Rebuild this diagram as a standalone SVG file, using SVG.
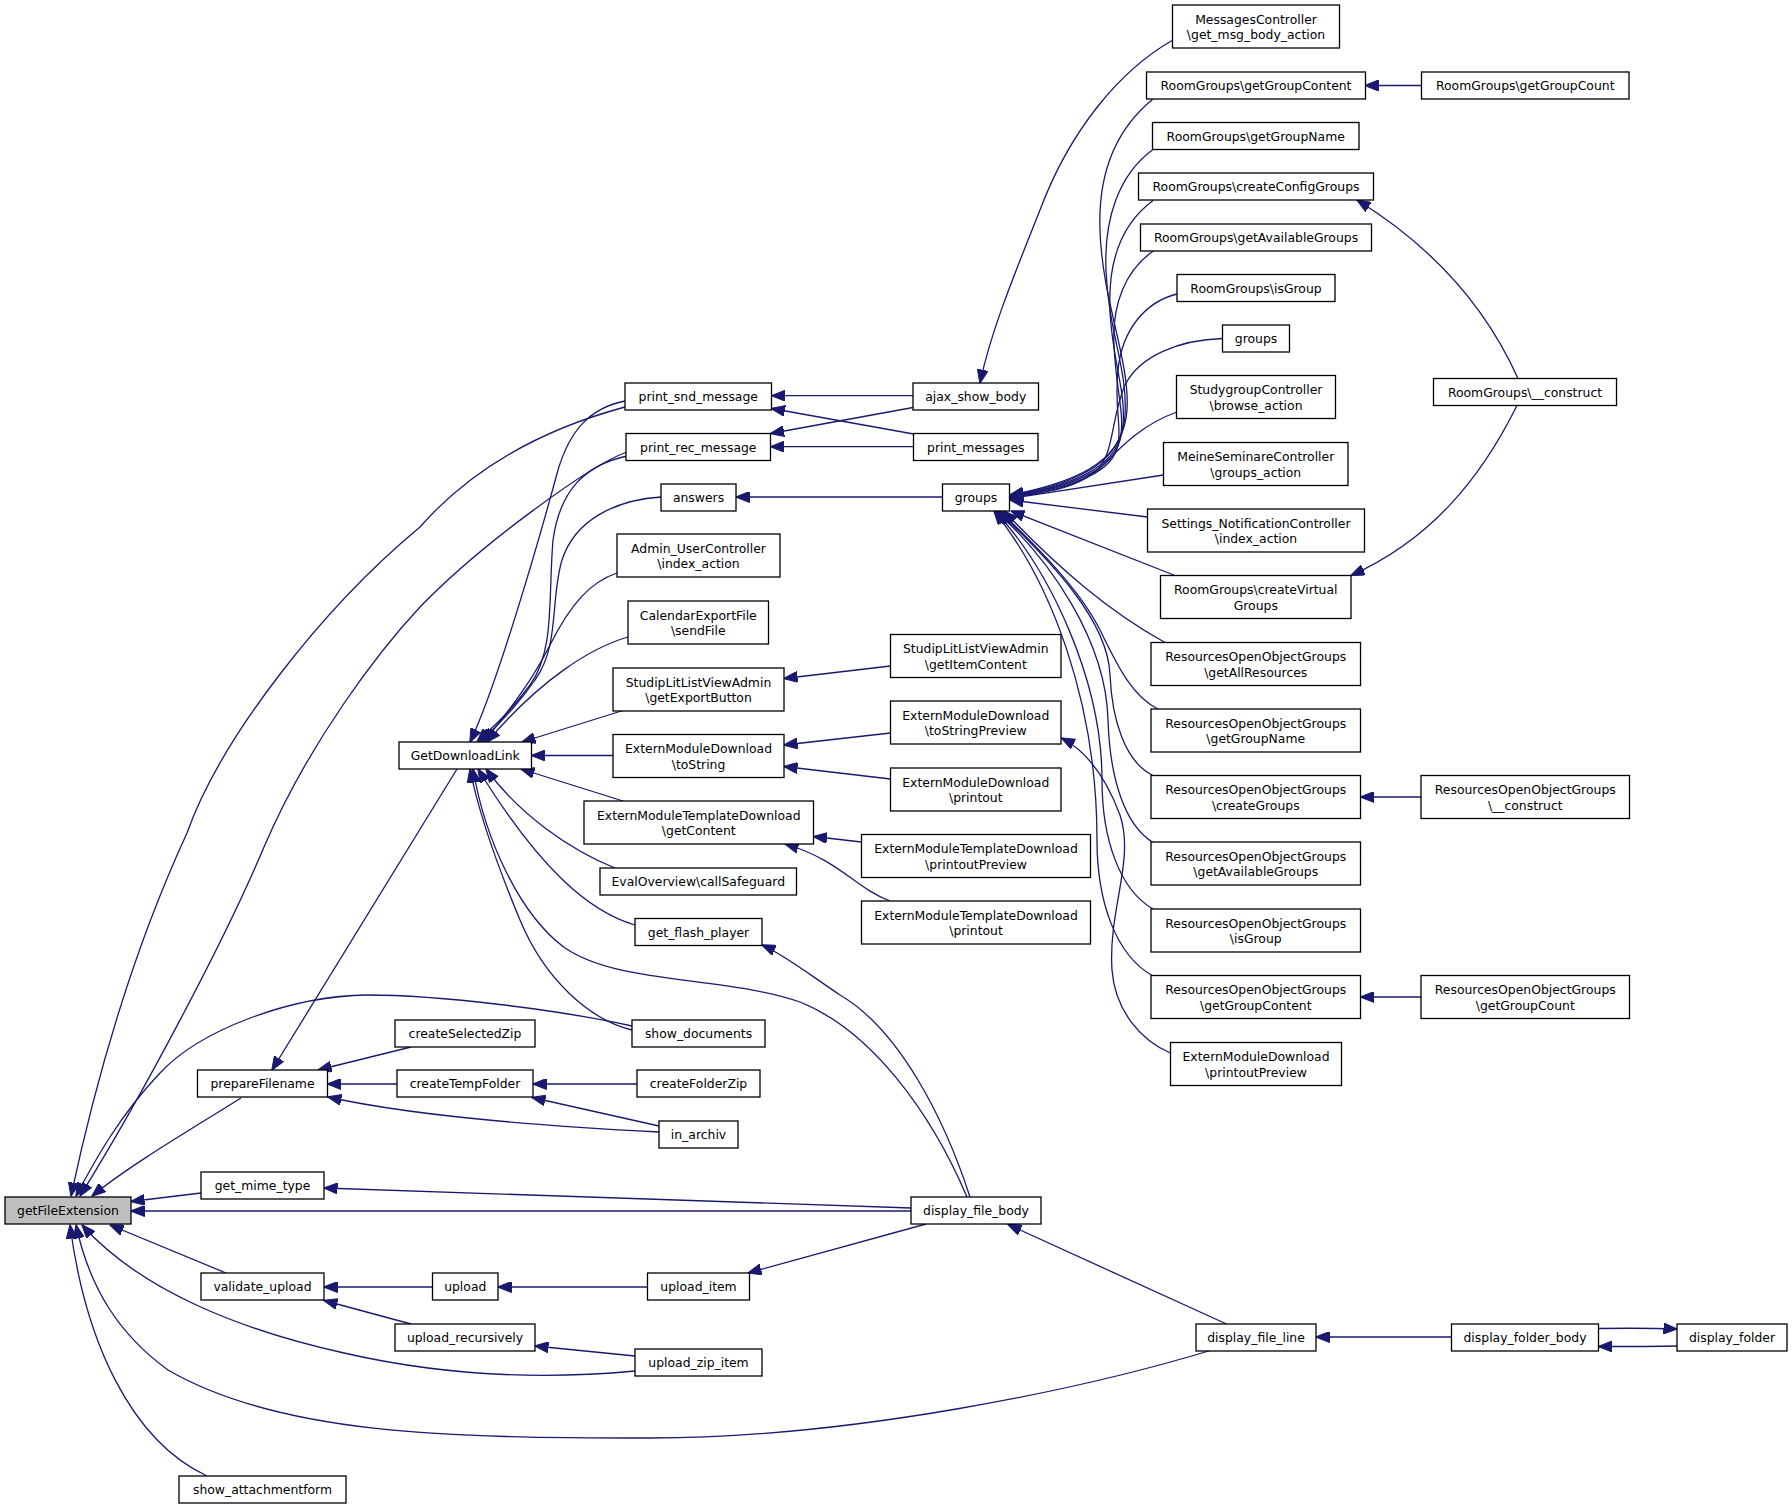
<svg xmlns="http://www.w3.org/2000/svg" width="1792" height="1508" viewBox="0 0 1792 1508">
<style>
.n rect{fill:#ffffff;stroke:#000000;stroke-width:1.3}
.n.hl rect{fill:#bfbfbf}
.n text{font-family:"DejaVu Sans","Liberation Sans",sans-serif;font-size:12.4px;fill:#000000;text-anchor:middle}
.e path{fill:none;stroke:#191970;stroke-width:1.3;marker-end:url(#a)}
</style>
<defs>
<marker id="a" markerUnits="userSpaceOnUse" markerWidth="14" markerHeight="11" viewBox="0 0 14 11" refX="13.5" refY="5.5" orient="auto"><path d="M0,0 L14,5.5 L0,11 z" fill="#191970" stroke="#191970" stroke-width="1"/></marker>
</defs>
<rect x="0" y="0" width="1792" height="1508" fill="#ffffff"/>
<g id="edges" class="e">
<path d="M625,407 C540,430 470,470 420,527 C320,610 220,740 187,833 C140,935 100,1060 71,1196"/>
<path d="M627,452 C590,465 480,545 420,607 C380,650 310,740 264,847 C225,940 140,1100 80,1196"/>
<path d="M632,1026 C560,1010 440,995 367,995 C290,996 200,1030 160,1073 C120,1115 95,1160 76,1196"/>
<path d="M241,1098 C190,1130 130,1165 92,1196"/>
<path d="M201,1193 L131,1201.5"/>
<path d="M911,1211 L131,1211"/>
<path d="M226,1273 L110,1225"/>
<path d="M635,1371 C540,1380 440,1375 344,1353 C240,1330 140,1290 82,1225"/>
<path d="M1212,1350 C1080,1390 850,1438 650,1438 C450,1438 280,1435 168,1370 C120,1335 90,1290 76,1225"/>
<path d="M207,1476 C130,1440 85,1340 70,1225"/>
<path d="M625,401 C590,408 570,430 558,470 C535,555 495,690 470,742"/>
<path d="M627,456 C585,465 560,490 553,540 C548,600 555,650 530,685 C510,712 495,725 477,742"/>
<path d="M661,497 C615,500 575,520 562,560 C550,600 560,645 535,680 C518,705 500,722 481,742"/>
<path d="M617,573 C590,582 570,605 550,645 C530,685 505,715 484,742"/>
<path d="M628,637 C590,648 540,680 487,742"/>
<path d="M623,710.5 L522,742"/>
<path d="M613,755.5 L531.5,755.5"/>
<path d="M623,801 L521,769"/>
<path d="M615,868 C570,850 520,815 486,769"/>
<path d="M635,925 C590,912 540,870 478,769"/>
<path d="M967,1197 C930,1110 870,1030 800,1002 C720,975 620,985 565,948 C520,915 485,840 473,769"/>
<path d="M632,1030 C590,1020 545,980 520,920 C495,860 478,810 470,769"/>
<path d="M457,769 L272,1070"/>
<path d="M411,1047 L318,1070"/>
<path d="M397,1084 L327.5,1084"/>
<path d="M659,1132 C520,1125 400,1113 328,1097"/>
<path d="M659,1126 L532,1097.5"/>
<path d="M637,1084 L533,1084"/>
<path d="M911,1208 L324,1188"/>
<path d="M432.5,1287 L324,1287"/>
<path d="M411,1324 L324,1300.5"/>
<path d="M647.5,1287 L498,1287"/>
<path d="M635,1356 L535,1346"/>
<path d="M926,1224 L748,1273"/>
<path d="M1226.5,1324 L1008,1224.5"/>
<path d="M970,1197 C945,1120 900,1030 840,995 C810,975 785,955 762,945"/>
<path d="M1451.5,1337 L1316,1337"/>
<path d="M1677,1346 C1650,1346.5 1620,1346.5 1598.5,1346.5"/>
<path d="M1598.5,1328.5 C1630,1328 1650,1328 1677,1329"/>
<path d="M913,395.7 L771.7,395.7"/>
<path d="M913.7,434 L771.5,408.5"/>
<path d="M913,407.5 L770.6,433.5"/>
<path d="M913.5,446.7 L770.6,446.7"/>
<path d="M1173,40 C1120,70 1070,130 1040,210 C1010,285 990,335 980,383"/>
<path d="M942.5,497 L736,497"/>
<path d="M890.5,666 L784,678.5"/>
<path d="M890.5,733 L784,745"/>
<path d="M890.5,779 L784,766.5"/>
<path d="M861.5,842 L813.5,836.5"/>
<path d="M890,901 C855,888 840,860 785,844"/>
<path d="M1170.5,1053 C1140,1040 1115,1010 1112,970 C1108,910 1135,860 1120,815 C1105,775 1085,750 1061.5,738"/>
<path d="M1421.5,85.5 L1365,85.5"/>
<path d="M1518,378.5 C1485,305 1430,245 1357,200"/>
<path d="M1517,405.5 C1480,480 1430,540 1351,575.5"/>
<path d="M1421,797 L1360.5,797"/>
<path d="M1421,997 L1360.5,997"/>
<path d="M1153,99 C1115,130 1098,175 1100,230 C1102,300 1130,360 1127,410 C1124,455 1090,480 1010,495"/>
<path d="M1153,149.5 C1118,175 1104,220 1106,270 C1108,330 1128,370 1125,415 C1122,458 1088,482 1010,495.5"/>
<path d="M1153,200.5 C1120,225 1108,265 1110,310 C1112,360 1126,390 1123,425 C1120,462 1085,484 1010,496"/>
<path d="M1154,250.5 C1125,270 1112,305 1114,345 C1116,390 1124,410 1121,435 C1117,465 1085,485 1010,496.5"/>
<path d="M1177,294 C1145,302 1122,330 1118,370 C1114,410 1122,425 1118,445 C1113,470 1082,486 1010,497"/>
<path d="M1222.5,338.5 C1180,340 1140,355 1125,385 C1110,420 1115,455 1095,472 C1075,488 1050,492 1010,497.5"/>
<path d="M1177,412 C1140,425 1118,450 1100,468 C1080,485 1050,492 1010,498"/>
<path d="M1163.5,475 L1010,498.5"/>
<path d="M1147.5,517 L1010,500"/>
<path d="M1175,575.5 L1011,511"/>
<path d="M1165,642.5 C1110,612 1060,570 1004,511"/>
<path d="M1158,709 C1130,695 1115,660 1100,630 C1080,590 1040,550 1000,511"/>
<path d="M1153,775.5 C1125,762 1112,720 1110,675 C1108,620 1050,560 998,511"/>
<path d="M1153,842.5 C1125,825 1110,780 1108,720 C1106,640 1050,560 996,511"/>
<path d="M1153,909 C1120,890 1102,840 1102,780 C1102,680 1050,570 995,511"/>
<path d="M1153,976 C1115,955 1097,900 1097,840 C1097,700 1050,580 994,511"/>
</g>
<g id="n-getFileExtension" class="n hl"><rect x="5" y="1197" width="126" height="27"/><text x="68" y="1215">getFileExtension</text></g>
<g id="n-prepareFilename" class="n"><rect x="197.5" y="1070" width="130" height="27"/><text x="262.5" y="1088">prepareFilename</text></g>
<g id="n-get_mime_type" class="n"><rect x="201" y="1172" width="123" height="27"/><text x="262.5" y="1190">get_mime_type</text></g>
<g id="n-validate_upload" class="n"><rect x="201" y="1273" width="123" height="27"/><text x="262.5" y="1291">validate_upload</text></g>
<g id="n-show_attachmentform" class="n"><rect x="179" y="1476" width="167" height="27"/><text x="262.5" y="1494">show_attachmentform</text></g>
<g id="n-createSelectedZip" class="n"><rect x="395" y="1020" width="140" height="27"/><text x="465" y="1038">createSelectedZip</text></g>
<g id="n-createTempFolder" class="n"><rect x="397" y="1070" width="136" height="27"/><text x="465" y="1088">createTempFolder</text></g>
<g id="n-upload" class="n"><rect x="432.5" y="1273" width="65.5" height="27"/><text x="465.25" y="1291">upload</text></g>
<g id="n-upload_recursively" class="n"><rect x="395" y="1324" width="140" height="27"/><text x="465" y="1342">upload_recursively</text></g>
<g id="n-GetDownloadLink" class="n"><rect x="399" y="742" width="132.5" height="27"/><text x="465.25" y="760">GetDownloadLink</text></g>
<g id="n-print_snd_message" class="n"><rect x="625" y="383" width="146.5" height="27"/><text x="698.25" y="401">print_snd_message</text></g>
<g id="n-print_rec_message" class="n"><rect x="626" y="433.5" width="144.5" height="27"/><text x="698.25" y="451.5">print_rec_message</text></g>
<g id="n-answers" class="n"><rect x="661" y="484" width="75" height="27"/><text x="698.5" y="502">answers</text></g>
<g id="n-Admin_UserController" class="n"><rect x="617" y="534" width="163" height="43"/><text x="698.5" y="552.5">Admin_UserController</text><text x="698.5" y="568">\index_action</text></g>
<g id="n-CalendarExportFile" class="n"><rect x="628" y="601" width="140.5" height="43"/><text x="698.25" y="619.5">CalendarExportFile</text><text x="698.25" y="635">\sendFile</text></g>
<g id="n-getExportButton" class="n"><rect x="613" y="668" width="171" height="43"/><text x="698.5" y="686.5">StudipLitListViewAdmin</text><text x="698.5" y="702">\getExportButton</text></g>
<g id="n-EMD_toString" class="n"><rect x="613" y="734.5" width="171" height="43"/><text x="698.5" y="753">ExternModuleDownload</text><text x="698.5" y="768.5">\toString</text></g>
<g id="n-EMTD_getContent" class="n"><rect x="584" y="801" width="229.5" height="43"/><text x="698.75" y="819.5">ExternModuleTemplateDownload</text><text x="698.75" y="835">\getContent</text></g>
<g id="n-callSafeguard" class="n"><rect x="600" y="868" width="196.5" height="27"/><text x="698.25" y="886">EvalOverview\callSafeguard</text></g>
<g id="n-get_flash_player" class="n"><rect x="635" y="918.5" width="127" height="27"/><text x="698.5" y="936.5">get_flash_player</text></g>
<g id="n-show_documents" class="n"><rect x="632" y="1020" width="133" height="27"/><text x="698.5" y="1038">show_documents</text></g>
<g id="n-createFolderZip" class="n"><rect x="637" y="1070" width="123" height="27"/><text x="698.5" y="1088">createFolderZip</text></g>
<g id="n-in_archiv" class="n"><rect x="659" y="1121" width="79" height="27"/><text x="698.5" y="1139">in_archiv</text></g>
<g id="n-upload_item" class="n"><rect x="647.5" y="1273" width="102" height="27"/><text x="698.5" y="1291">upload_item</text></g>
<g id="n-upload_zip_item" class="n"><rect x="635" y="1349" width="127" height="27"/><text x="698.5" y="1367">upload_zip_item</text></g>
<g id="n-ajax_show_body" class="n"><rect x="913" y="383" width="125.5" height="27"/><text x="975.75" y="401">ajax_show_body</text></g>
<g id="n-print_messages" class="n"><rect x="913.5" y="433.5" width="124.5" height="27"/><text x="975.75" y="451.5">print_messages</text></g>
<g id="n-groups" class="n"><rect x="942.5" y="484" width="67" height="27"/><text x="976" y="502">groups</text></g>
<g id="n-getItemContent" class="n"><rect x="890.5" y="634.5" width="170.5" height="43"/><text x="975.75" y="653">StudipLitListViewAdmin</text><text x="975.75" y="668.5">\getItemContent</text></g>
<g id="n-EMD_toStringPreview" class="n"><rect x="890.5" y="701" width="170.5" height="43"/><text x="975.75" y="719.5">ExternModuleDownload</text><text x="975.75" y="735">\toStringPreview</text></g>
<g id="n-EMD_printout" class="n"><rect x="890.5" y="768" width="170.5" height="43"/><text x="975.75" y="786.5">ExternModuleDownload</text><text x="975.75" y="802">\printout</text></g>
<g id="n-EMTD_printoutPreview" class="n"><rect x="861.5" y="834.5" width="229" height="43"/><text x="976" y="853">ExternModuleTemplateDownload</text><text x="976" y="868.5">\printoutPreview</text></g>
<g id="n-EMTD_printout" class="n"><rect x="861.5" y="901" width="229" height="43"/><text x="976" y="919.5">ExternModuleTemplateDownload</text><text x="976" y="935">\printout</text></g>
<g id="n-display_file_body" class="n"><rect x="911" y="1197" width="130" height="27"/><text x="976" y="1215">display_file_body</text></g>
<g id="n-MessagesController" class="n"><rect x="1172.5" y="5" width="167" height="43"/><text x="1256" y="23.5">MessagesController</text><text x="1256" y="39">\get_msg_body_action</text></g>
<g id="n-RG_getGroupContent" class="n"><rect x="1146.5" y="72" width="219" height="27"/><text x="1256" y="90">RoomGroups\getGroupContent</text></g>
<g id="n-RG_getGroupName" class="n"><rect x="1152.5" y="122.5" width="206.5" height="27"/><text x="1255.75" y="140.5">RoomGroups\getGroupName</text></g>
<g id="n-RG_createConfigGroups" class="n"><rect x="1138.5" y="173" width="235" height="27"/><text x="1256" y="191">RoomGroups\createConfigGroups</text></g>
<g id="n-RG_getAvailableGroups" class="n"><rect x="1140.5" y="224" width="231" height="27"/><text x="1256" y="242">RoomGroups\getAvailableGroups</text></g>
<g id="n-RG_isGroup" class="n"><rect x="1177" y="274.5" width="158" height="27"/><text x="1256" y="292.5">RoomGroups\isGroup</text></g>
<g id="n-groups2" class="n"><rect x="1222.5" y="325" width="67" height="27"/><text x="1256" y="343">groups</text></g>
<g id="n-StudygroupController" class="n"><rect x="1176.5" y="375.5" width="159" height="43"/><text x="1256" y="394">StudygroupController</text><text x="1256" y="409.5">\browse_action</text></g>
<g id="n-MeineSeminareController" class="n"><rect x="1163.5" y="442.5" width="184.5" height="43"/><text x="1255.75" y="461">MeineSeminareController</text><text x="1255.75" y="476.5">\groups_action</text></g>
<g id="n-Settings_NotificationController" class="n"><rect x="1147.5" y="509" width="217" height="43"/><text x="1256" y="527.5">Settings_NotificationController</text><text x="1256" y="543">\index_action</text></g>
<g id="n-RG_createVirtualGroups" class="n"><rect x="1160.5" y="575.5" width="190.5" height="43"/><text x="1255.75" y="594">RoomGroups\createVirtual</text><text x="1255.75" y="609.5">Groups</text></g>
<g id="n-ROOG_getAllResources" class="n"><rect x="1151" y="642.5" width="209.5" height="43"/><text x="1255.75" y="661">ResourcesOpenObjectGroups</text><text x="1255.75" y="676.5">\getAllResources</text></g>
<g id="n-ROOG_getGroupName" class="n"><rect x="1151" y="709" width="209.5" height="43"/><text x="1255.75" y="727.5">ResourcesOpenObjectGroups</text><text x="1255.75" y="743">\getGroupName</text></g>
<g id="n-ROOG_createGroups" class="n"><rect x="1151" y="775.5" width="209.5" height="43"/><text x="1255.75" y="794">ResourcesOpenObjectGroups</text><text x="1255.75" y="809.5">\createGroups</text></g>
<g id="n-ROOG_getAvailableGroups" class="n"><rect x="1151" y="842" width="209.5" height="43"/><text x="1255.75" y="860.5">ResourcesOpenObjectGroups</text><text x="1255.75" y="876">\getAvailableGroups</text></g>
<g id="n-ROOG_isGroup" class="n"><rect x="1151" y="909" width="209.5" height="43"/><text x="1255.75" y="927.5">ResourcesOpenObjectGroups</text><text x="1255.75" y="943">\isGroup</text></g>
<g id="n-ROOG_getGroupContent" class="n"><rect x="1151" y="975.5" width="209.5" height="43"/><text x="1255.75" y="994">ResourcesOpenObjectGroups</text><text x="1255.75" y="1009.5">\getGroupContent</text></g>
<g id="n-EMD_printoutPreview" class="n"><rect x="1170.5" y="1042.5" width="171" height="43"/><text x="1256" y="1061">ExternModuleDownload</text><text x="1256" y="1076.5">\printoutPreview</text></g>
<g id="n-display_file_line" class="n"><rect x="1196" y="1324" width="120" height="27"/><text x="1256" y="1342">display_file_line</text></g>
<g id="n-RG_getGroupCount" class="n"><rect x="1421.5" y="72" width="207.5" height="27"/><text x="1525.25" y="90">RoomGroups\getGroupCount</text></g>
<g id="n-RG_construct" class="n"><rect x="1433.5" y="378.5" width="183" height="27"/><text x="1525" y="397">RoomGroups\__construct</text></g>
<g id="n-ROOG_construct" class="n"><rect x="1421" y="775.5" width="208.5" height="43"/><text x="1525.25" y="794">ResourcesOpenObjectGroups</text><text x="1525.25" y="809.5">\__construct</text></g>
<g id="n-ROOG_getGroupCount" class="n"><rect x="1421" y="975.5" width="208.5" height="43"/><text x="1525.25" y="994">ResourcesOpenObjectGroups</text><text x="1525.25" y="1009.5">\getGroupCount</text></g>
<g id="n-display_folder_body" class="n"><rect x="1451.5" y="1324" width="147" height="27"/><text x="1525" y="1342">display_folder_body</text></g>
<g id="n-display_folder" class="n"><rect x="1677" y="1324" width="110" height="27"/><text x="1732" y="1342">display_folder</text></g>
</svg>
